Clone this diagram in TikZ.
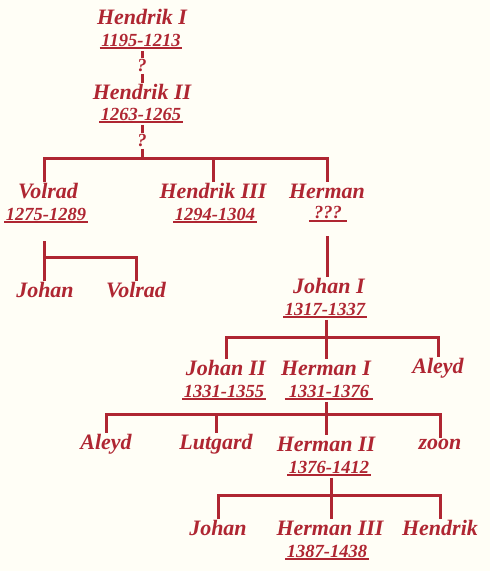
\documentclass[tikz,border=0pt]{standalone}
\usepackage{fontspec}
\setmainfont{Liberation Serif}
\usepackage{tikz}
\definecolor{kred}{RGB}{175,38,50}
\definecolor{cream}{RGB}{255,254,246}
\newcommand{\namefont}{\fontsize{22}{24}\selectfont\bfseries\itshape}
\newcommand{\datefont}{\fontsize{18.5}{20}\selectfont\bfseries\itshape}

\begin{document}
\begin{tikzpicture}
  [x=1pt,y=-1pt,
   every node/.style={text=kred,font=\namefont,inner sep=1pt},
   date/.style={font=\datefont,inner xsep=1.5pt,inner ysep=1.5pt},
   tree/.style={draw=kred,line width=3pt},
   uline/.style={draw=kred,line width=1.2pt}]
\fill[cream] (0,0) rectangle (490,571);

% generations
\node []      (hI)      at (142,17)  {Hendrik I};
\node [date]  (dI)      at (141,40)  {1195-1213};
\node [date]  (q1)      at (142,66)  {?};
\node []      (hII)     at (142,92)  {Hendrik II};
\node [date]  (dII)     at (141,114) {1263-1265};
\node [date]  (q2)      at (142,141) {?};
\node []      (volrad)  at (48,191)  {Volrad};
\node [date]  (dvolrad) at (46,214)  {1275-1289};
\node []      (hIII)    at (213,191) {Hendrik III};
\node [date]  (dhIII)   at (215,214) {1294-1304};
\node []      (herman)  at (327,191) {Herman};
\node [date,minimum width=38pt] (dherman) at (328,213) {???};
\node []      (johanA)  at (45,290)  {Johan};
\node []      (volradB) at (136,290) {Volrad};
\node []      (jI)      at (329,286) {Johan I};
\node [date]  (djI)     at (325,309) {1317-1337};
\node []      (jII)     at (226,368) {Johan II};
\node [date]  (djII)    at (224,391) {1331-1355};
\node []      (hmI)     at (326,368) {Herman I};
\node [date,minimum width=88pt] (dhmI) at (329,391) {1331-1376};
\node []      (aleydA)  at (438,368) {Aleyd};
\node []      (aleydB)  at (106,444) {Aleyd};
\node []      (lutgard) at (216,444) {Lutgard};
\node []      (hmII)    at (326,444) {Herman II};
\node []      (zoon)    at (440,444) {zoon};
\node [date]  (dhmII)   at (329,467) {1376-1412};
\node []      (johanC)  at (218,528) {Johan};
\node []      (hmIII)   at (330,528) {Herman III};
\node []      (hendrik) at (440,528) {Hendrik};
\node [date]  (dhmIII)  at (327,551) {1387-1438};

\foreach \d in {dI,dII,dvolrad,dhIII,dherman,djI,djII,dhmI,dhmII,dhmIII}
  \draw[uline] (\d.south west) -- (\d.south east);

% junctions
\coordinate (bar1) at (142,158);
\coordinate (vtop) at (44,241);
\coordinate (htop) at (327,236);
\coordinate (bar3) at (326,337);
\coordinate (bar4) at (326,414);
\coordinate (bar5) at (331,495);

\draw [tree] (bar1 |- dI.south) ++(0,3) -- (bar1 |- q1.north)
             (bar1 |- q1.south) -- (bar1 |- hII.north)
             (bar1 |- dII.south) ++(0,3) -- (bar1 |- q2.north)
             (bar1 |- q2.south) -- (bar1) ;
\draw [tree] (volrad.north -| vtop) |- (bar1) -| (herman.north -| htop) ;
\draw [tree] (hIII.north) -- (hIII.north |- bar1) ;

\draw [tree] (vtop) -- (johanA.north -| vtop) ;
\draw [tree] (vtop |- 0,257) -| (volradB.north) ;
\draw [tree] (htop) -- (htop |- jI.north) ;

\draw [tree] (bar3 |- djI.south) ++(0,3) -- (bar3 |- hmI.north) ;
\draw [tree] (jII.north) |- (bar3) -| (aleydA.north) ;

\draw [tree] (bar4 |- dhmI.south) ++(0,3) -- (bar4 |- hmII.north) ;
\draw [tree] (aleydB.north) |- (bar4) -| (zoon.north) ;
\draw [tree] (lutgard.north) -- (lutgard.north |- bar4) ;

\draw [tree] (bar5 |- dhmII.south) ++(0,3) -- (bar5 |- hmIII.north) ;
\draw [tree] (johanC.north) |- (bar5) -| (hendrik.north) ;
\end{tikzpicture}
\end{document}
